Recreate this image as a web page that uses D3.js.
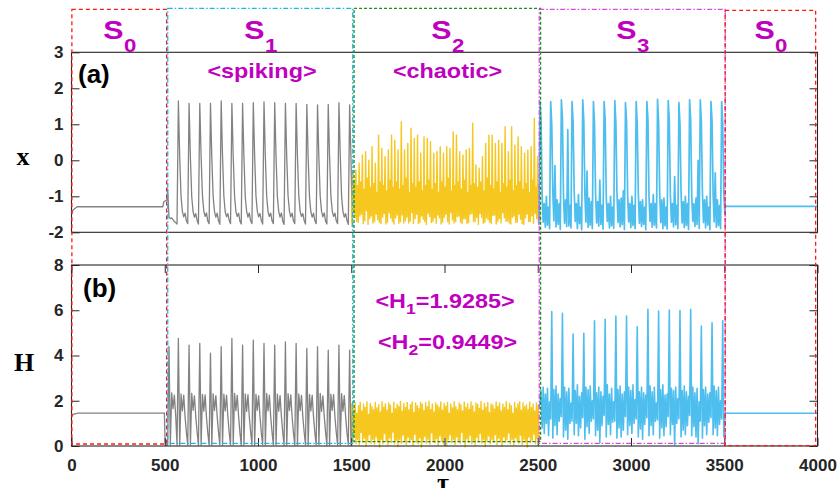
<!DOCTYPE html>
<html>
<head>
<meta charset="utf-8">
<script src="https://cdn.jsdelivr.net/npm/d3@7"></script>
<style>
  body { margin: 0; background: #fff; }
  svg { display: block; }
</style>
</head>
<body>
<div id="chart"></div>
<script>
(function(){

  var width = 839;
  var height = 488;

  // regions (tau)
  var regionSub = ['0', '1', '2', '3', '0'];
  var regionStart = [2, 516, 1515, 2508, 3505];
  var regionEnd = [510, 1508, 2515, 3505, 3990];

  var tauTicks = [0, 500, 1000, 1500, 2000, 2500, 3000, 3500, 4000];
  var xTicks = [-2, -1, 0, 1, 2, 3];
  var hTicks = [0, 2, 4, 6, 8];

  // S0 at start (gray)
  var s0T = [0, 8, 30, 490, 495, 512];
  var s0X = [-1.5, -1.38, -1.29, -1.29, -1.15, -1.1];
  var s0HT = [0, 10, 35, 498, 502, 512];
  var s0H = [1.3, 1.4, 1.45, 1.45, 0.15, 0.03];

  // S1 spiking, sampled from tau = 515.6 every 7.175
  var s1Start = 515.6, s1Step = 7.175;
  var s1X = [
    -0.8, -1.58, -1.62, -1.60, -1.65, -1.70, -1.73, -1.77,
    1.65, 0.10, -1.00, -1.42, -1.57, -1.47, -1.68, -1.76,
    1.58, 0.08, -1.02, -1.43, -1.58, -1.48, -1.67, -1.77,
    1.58, 0.10, -0.98, -1.41, -1.56, -1.46, -1.69, -1.76,
    1.58, 0.06, -1.01, -1.42, -1.58, -1.47, -1.68, -1.78,
    1.65, 0.12, -0.99, -1.43, -1.57, -1.48, -1.67, -1.76,
    1.58, 0.09, -1.00, -1.42, -1.56, -1.47, -1.69, -1.77,
    1.58, 0.08, -1.02, -1.41, -1.58, -1.46, -1.68, -1.76,
    1.60, 0.11, -0.99, -1.42, -1.57, -1.48, -1.67, -1.77,
    1.62, 0.10, -1.00, -1.43, -1.56, -1.47, -1.68, -1.76,
    1.60, 0.09, -1.01, -1.42, -1.58, -1.46, -1.69, -1.78,
    1.58, 0.07, -1.00, -1.41, -1.57, -1.47, -1.68, -1.76,
    1.58, 0.10, -0.98, -1.42, -1.56, -1.48, -1.67, -1.77,
    1.55, 0.06, -1.02, -1.43, -1.58, -1.47, -1.68, -1.76,
    1.54, 0.08, -1.00, -1.42, -1.57, -1.46, -1.69, -1.77,
    1.55, 0.09, -0.99, -1.41, -1.56, -1.47, -1.68, -1.76,
    1.60, 0.11, -1.01, -1.42, -1.58, -1.48, -1.67, -1.78,
    1.54, 0.05, -1.85
  ];
  var s1H = [
    0.05, 4.40, 0.05, 2.35, 1.65, 2.25, 1.35, 0.05,
    4.76, 0.05, 2.30, 1.55, 2.25, 1.30, 0.60, 0.05,
    4.46, 0.06, 2.32, 1.58, 2.22, 1.32, 0.62, 0.04,
    4.53, 0.05, 2.28, 1.54, 2.26, 1.28, 0.58, 0.05,
    4.10, 0.04, 2.31, 1.57, 2.23, 1.31, 0.61, 0.06,
    4.39, 0.05, 2.29, 1.55, 2.25, 1.30, 0.59, 0.05,
    4.76, 0.06, 2.33, 1.56, 2.24, 1.33, 0.60, 0.04,
    4.46, 0.05, 2.30, 1.53, 2.27, 1.29, 0.62, 0.05,
    4.68, 0.04, 2.28, 1.58, 2.22, 1.31, 0.58, 0.06,
    4.53, 0.05, 2.32, 1.55, 2.25, 1.30, 0.61, 0.05,
    4.46, 0.06, 2.29, 1.54, 2.23, 1.32, 0.60, 0.04,
    4.60, 0.05, 2.31, 1.57, 2.26, 1.28, 0.59, 0.05,
    4.53, 0.04, 2.30, 1.56, 2.24, 1.31, 0.62, 0.06,
    4.31, 0.05, 2.28, 1.55, 2.25, 1.30, 0.58, 0.05,
    4.39, 0.06, 2.33, 1.53, 2.22, 1.33, 0.61, 0.04,
    4.24, 0.05, 2.29, 1.58, 2.27, 1.29, 0.60, 0.05,
    4.46, 0.04, 2.31, 1.54, 2.23, 1.31, 0.59, 0.06,
    4.24, 0.05, 1.90
  ];

  // S2 chaotic, x: per cycle [low, tall, low, mid], from tau 1503 every 4.35
  var s2Start = 1503, s2XStep = 4.35, s2HStep = 4.5;
  var s2XTall = [-0.32,-0.27,-0.08,0.15,0.24,0.0,0.38,-0.08,0.7,0.33,0.1,0.29,0.7,0.56,0.29,1.07,0.29,0.47,0.89,0.61,0.7,0.2,0.65,0.61,0.52,0.2,0.24,0.38,0.2,0.38,0.33,0.79,0.7,0.24,0.15,0.29,0.33,1.03,-0.13,-0.22,0.1,0.47,0.7,0.7,0.47,0.56,0.47,0.93,0.24,0.93,0.42,0.65,0.38,0.2,0.29,0.38,1.17,0.1];
  var s2XMid = [-0.55,-0.7,-0.6,-0.8,-0.5,-0.75,-0.65,-0.9,-0.6,-0.7,-0.85,-0.55,-0.75,-0.6,-0.8,-0.7,-0.5,-0.9,-0.65,-0.75,-0.6,-0.85,-0.7,-0.55,-0.8,-0.65,-0.9,-0.6,-0.75,-0.5,-0.85,-0.7,-0.6,-0.8,-0.55,-0.9,-0.7,-0.65,-0.75,-0.6,-0.85,-0.5,-0.7,-0.8,-0.6,-0.9,-0.65,-0.75,-0.55,-0.85,-0.7,-0.6,-0.8,-0.65,-0.9,-0.55,-0.75,-0.7];
  var s2XLow1 = [-1.75,-1.6,-1.72,-1.5,-1.68,-1.78,-1.55,-1.7,-1.65,-1.76,-1.48,-1.72,-1.6,-1.77,-1.52,-1.7,-1.74,-1.58,-1.69,-1.76,-1.5,-1.73,-1.64,-1.78,-1.56,-1.7,-1.75,-1.6,-1.72,-1.5,-1.77,-1.66,-1.7,-1.55,-1.76,-1.62,-1.73,-1.48,-1.7,-1.78,-1.58,-1.72,-1.65,-1.76,-1.52,-1.7,-1.74,-1.6,-1.68,-1.77,-1.55,-1.72,-1.64,-1.78,-1.5,-1.7,-1.75,-1.62];
  var s2XLow2 = [-1.45,-1.7,-1.55,-1.76,-1.4,-1.62,-1.74,-1.5,-1.72,-1.58,-1.77,-1.46,-1.7,-1.6,-1.75,-1.52,-1.68,-1.74,-1.45,-1.62,-1.76,-1.55,-1.7,-1.48,-1.73,-1.6,-1.52,-1.77,-1.58,-1.7,-1.45,-1.74,-1.56,-1.72,-1.62,-1.76,-1.5,-1.7,-1.58,-1.48,-1.75,-1.6,-1.72,-1.53,-1.77,-1.62,-1.46,-1.7,-1.74,-1.58,-1.72,-1.5,-1.76,-1.6,-1.7,-1.55,-1.48,-1.73];
  // S2 chaotic, H: per cycle [high, low]
  var s2HHigh = [
    1.85,1.6,1.9,1.45,1.78,1.92,1.55,1.85,1.7,1.95,1.4,1.88,1.75,1.6,
    1.93,1.68,1.82,1.5,1.96,1.72,1.87,1.58,1.9,1.8,1.45,1.94,1.65,1.85,
    1.75,1.97,1.55,1.88,1.7,1.92,1.6,1.83,1.95,1.48,1.9,1.78,1.66,1.94,
    1.85,1.57,1.92,1.74,1.98,1.62,1.86,1.5,1.9,1.8,1.7,1.95,1.58,1.88,
    1.76,1.93,1.45,1.85,1.68,1.96,1.74,1.6,1.9,1.82,1.55,1.94,1.7,1.87,
    1.62,1.95,1.78,1.5,1.9,1.84,1.66,1.97,1.58,1.88,1.72,1.93,1.48,1.86,
    1.8,1.64,1.95,1.75,1.9,1.55,1.85,1.7,1.96,1.6,1.88,1.78,1.45,1.92,
    1.68,1.86,1.95,1.58,1.9,1.74,1.82,1.62,1.94,1.7,1.86,1.55,1.9,1.8
  ];
  var s2HLow = [
    0.2,0.45,0.1,0.3,0.05,0.6,0.15,0.35,0.0,0.25,0.5,0.12,0.3,0.08,
    0.4,0.18,-0.05,0.28,0.1,0.55,0.2,0.05,0.35,0.15,0.62,0.1,0.25,-0.03,
    0.3,0.12,0.48,0.2,0.06,0.38,0.15,0.28,0.02,0.52,0.18,0.1,0.35,-0.05,
    0.25,0.42,0.12,0.3,0.08,0.58,0.2,0.15,0.32,0.05,0.45,0.22,0.1,0.36,
    0.0,0.28,0.5,0.14,0.3,0.06,0.4,0.2,0.12,0.6,0.25,-0.04,0.32,0.15,
    0.46,0.1,0.26,0.05,0.38,0.18,0.55,0.12,0.3,-0.02,0.22,0.44,0.1,0.28,
    0.15,0.5,0.06,0.34,0.2,0.0,0.4,0.16,0.28,0.58,0.1,0.3,0.05,0.36,
    0.22,0.12,0.48,0.08,0.3,0.18,-0.05,0.4,0.15,0.26,0.52,0.1,0.32,0.2
  ];

  // S3 bursting, sampled from tau 2506.3 every 5.73
  var s3Start = 2506.3, s3Step = 5.73;
  var s3X = [
    -1.8,
    1.63, 1.10, -0.95, -1.72, -1.20, -1.86, -1.00, -1.80, -1.30, -1.90,
    1.63, 1.00, -0.90, -1.68, -0.15, -1.85, -1.10, -1.78, -1.20, -1.92,
    1.68, 1.15, -1.00, -1.75, -1.10, -1.84, 0.85, -1.82, -1.25, -1.88,
    1.63, 1.05, -0.85, -1.70, -1.20, -1.90, -0.95, -1.76, -1.30, -1.93,
    1.68, 1.10, -0.95, -1.72, -0.30, -1.86, -1.05, -1.80, -1.15, -1.90,
    1.63, 1.00, -0.90, -1.74, -1.15, -1.83, -0.55, -1.78, -1.25, -1.91,
    1.63, 1.12, -1.00, -1.70, -1.20, -1.88, -1.00, -1.82, -1.30, -1.89,
    1.66, 1.05, -0.88, -1.73, -1.10, -1.85, -1.05, -1.79, -0.85, -1.92,
    1.60, 1.10, -0.95, -1.71, -1.20, -1.87, -1.00, -1.81, -1.25, -1.90,
    1.63, 1.00, -0.90, -1.75, -1.15, -1.84, -1.10, -1.78, -1.30, -1.93,
    1.63, 1.15, -1.00, -1.70, -1.20, -1.86, -0.95, -1.80, -1.20, -1.88,
    1.69, 1.05, -0.92, -1.73, -1.10, -1.90, -1.05, -1.82, -1.30, -1.91,
    1.66, 1.10, -0.95, -1.72, -1.20, -1.85, -0.45, -1.79, -1.25, -1.90,
    1.60, 1.00, -0.88, -1.74, -1.15, -1.87, -1.00, -1.81, -1.20, -1.92,
    1.68, 1.12, -1.00, -1.70, -1.20, -1.84, -1.05, -1.78, 0.00, -1.89,
    1.68, 1.05, -0.90, -1.73, -1.10, -1.88, -1.00, -1.80, -1.30, -1.93,
    1.63, 1.10, -0.95, -1.71, -0.35, -1.86, -1.10, -1.82, -1.25, -1.90,
    1.63, 1.00, -0.90, -1.50
  ];
  var s3H = [
    1.75,
    1.90, 2.45, 0.80, 2.60, 0.55, 2.30, 1.00, 2.55, 0.45, 1.95,
    1.20, 5.94, 0.35, 2.50, 0.90, 2.65, 0.50, 2.30, 1.10, 2.10,
    1.30, 5.86, 0.40, 2.60, 0.70, 2.40, 0.30, 2.55, 1.00, 1.90,
    1.10, 4.95, 0.50, 2.45, 1.00, 2.70, 0.45, 2.20, 0.80, 2.35,
    1.25, 4.98, 0.30, 2.60, 0.85, 2.50, 0.55, 2.65, 1.10, 2.00,
    1.20, 5.53, 0.45, 2.35, 0.70, 2.60, 0.15, 2.40, 0.90, 2.20,
    1.35, 5.60, 0.40, 2.70, 0.95, 2.30, 0.50, 2.55, 1.05, 1.95,
    1.10, 5.74, 0.35, 2.50, 0.80, 2.65, 0.40, 2.30, 0.70, 2.40,
    1.30, 5.74, 0.50, 2.60, 0.90, 2.45, 0.55, 2.70, 1.00, 2.05,
    1.20, 5.27, 0.40, 2.40, 0.75, 2.60, 0.30, 2.35, 0.95, 2.25,
    1.25, 6.04, 0.45, 2.65, 0.90, 2.40, 0.50, 2.60, 1.10, 1.90,
    1.15, 5.97, 0.35, 2.50, 0.80, 2.70, 0.45, 2.25, 0.85, 2.30,
    1.30, 6.01, 0.50, 2.55, 0.95, 2.45, 0.05, 2.60, 1.00, 2.10,
    1.20, 5.99, 0.40, 2.45, 0.70, 2.65, 0.50, 2.40, 0.90, 2.20,
    1.35, 6.04, 0.45, 2.60, 0.85, 2.35, 0.40, 2.55, 0.10, 1.95,
    1.10, 5.30, 0.35, 2.50, 0.90, 2.60, 0.50, 2.30, 1.05, 2.35,
    1.25, 5.45, 0.50, 2.65, 0.80, 2.45, 0.45, 2.60, 0.95, 2.00,
    1.20, 5.53, 0.40, 1.40
  ];

  // S0 at end (blue)
  var s0bT = [3505, 4000];
  var s0bX = [-1.28, -1.28];
  var s0bH = [1.45, 1.45];

  var gray = '#828282', yellow = '#f5c71f', blue = '#4dbeee';
  var magenta = '#bf00bf', axisColor = '#262626';

  var svg = d3.select('#chart').append('svg')
    .attr('width', width).attr('height', height)
    .attr('font-family', '"Liberation Sans", Arial, sans-serif');

  var x = d3.scaleLinear().domain([0, 4000]).range([71.5, 817.5]);
  var ya = d3.scaleLinear().domain([-2, 3]).range([232.3, 52.3]);
  var yb = d3.scaleLinear().domain([0, 8]).range([446, 265]);

  function sampled(t0, step, vals) {
    return vals.map(function(v, i) { return [t0 + i * step, v]; });
  }
  function paired(ts, vals) {
    return vals.map(function(v, i) { return [ts[i], v]; });
  }

  var s2XVals = [];
  s2XTall.forEach(function(v, i) {
    s2XVals.push(s2XLow1[i], v, s2XLow2[i], s2XMid[i]);
  });
  s2XVals.push(-1.7);
  var s2HVals = [];
  s2HHigh.forEach(function(v, i) { s2HVals.push(v, s2HLow[i]); });

  var panelA = [
    { pts: paired(s0T, s0X).concat(sampled(s1Start, s1Step, s1X)), color: gray, w: 1.3 },
    { pts: sampled(s2Start, s2XStep, s2XVals), color: yellow, w: 1.4 },
    { pts: sampled(s3Start, s3Step, s3X).concat(paired(s0bT, s0bX)), color: blue, w: 1.7 }
  ];
  var panelB = [
    { pts: paired(s0HT, s0H).concat(sampled(s1Start, s1Step, s1H)), color: gray, w: 1.3 },
    { pts: sampled(s2Start, s2HStep, s2HVals), color: yellow, w: 1.4 },
    { pts: sampled(s3Start, s3Step, s3H).concat(paired(s0bT, s0bH)), color: blue, w: 1.6 }
  ];

  var lineA = d3.line().x(function(d) { return x(d[0]); }).y(function(d) { return ya(d[1]); });
  var lineB = d3.line().x(function(d) { return x(d[0]); }).y(function(d) { return yb(d[1]); });

  svg.append('g').selectAll('path').data(panelA).enter().append('path')
    .attr('d', function(d) { return lineA(d.pts); })
    .attr('fill', 'none').attr('stroke', function(d) { return d.color; })
    .attr('stroke-width', function(d) { return d.w; }).attr('stroke-linejoin', 'round');
  svg.append('g').selectAll('path').data(panelB).enter().append('path')
    .attr('d', function(d) { return lineB(d.pts); })
    .attr('fill', 'none').attr('stroke', function(d) { return d.color; })
    .attr('stroke-width', function(d) { return d.w; }).attr('stroke-linejoin', 'round');

  // axes
  var plain = function(d) { return String(d); };
  function styleAxis(g) {
    g.selectAll('.domain').remove();
    g.selectAll('line').attr('stroke', axisColor);
    g.selectAll('text').attr('fill', axisColor).attr('font-size', 17).attr('font-weight', 'bold');
  }
  svg.append('g').attr('transform', 'translate(71.5,0)')
    .call(d3.axisLeft(ya).tickValues(xTicks).tickFormat(plain).tickSize(-8).tickPadding(8)).call(styleAxis);
  svg.append('g').attr('transform', 'translate(817.5,0)')
    .call(d3.axisRight(ya).tickValues(xTicks).tickSize(-8).tickFormat('')).call(styleAxis);
  svg.append('g').attr('transform', 'translate(71.5,0)')
    .call(d3.axisLeft(yb).tickValues(hTicks).tickFormat(plain).tickSize(-8).tickPadding(8)).call(styleAxis);
  svg.append('g').attr('transform', 'translate(817.5,0)')
    .call(d3.axisRight(yb).tickValues(hTicks).tickSize(-8).tickFormat('')).call(styleAxis);
  svg.append('g').attr('transform', 'translate(0,446)')
    .call(d3.axisBottom(x).tickValues(tauTicks).tickFormat(plain).tickSize(-8).tickPadding(13)).call(styleAxis);
  svg.append('g').attr('transform', 'translate(0,265)')
    .call(d3.axisTop(x).tickValues(tauTicks).tickSize(-8).tickFormat('')).call(styleAxis);

  // frames
  [[ya, 3, -2], [yb, 8, 0]].forEach(function(p) {
    svg.append('rect')
      .attr('x', x(0)).attr('y', p[0](p[1]))
      .attr('width', x(4000) - x(0)).attr('height', p[0](p[2]) - p[0](p[1]))
      .attr('fill', 'none').attr('stroke', axisColor).attr('stroke-width', 1.1);
  });

  // dashed region boxes
  var boxColor = ['#ff1a1a', '#1fb6e6', '#1e8c1e', '#cf4fdc', '#ff1a1a'];
  var boxDash = ['4,3', '5,2,1.5,2', '3,2', '5,2,1.5,2', '4,3'];
  var boxTop = [9.3, 8.3, 8.3, 9.3, 10.3];
  var boxBottom = [444, 443.3, 441.7, 443.3, 445.7];
  svg.append('g').selectAll('rect').data(regionStart).enter().append('rect')
    .attr('x', function(d) { return x(d); })
    .attr('y', function(d, i) { return boxTop[i]; })
    .attr('width', function(d, i) { return x(regionEnd[i]) - x(d); })
    .attr('height', function(d, i) { return boxBottom[i] - boxTop[i]; })
    .attr('fill', 'none')
    .attr('stroke', function(d, i) { return boxColor[i]; })
    .attr('stroke-width', 1.3)
    .attr('stroke-dasharray', function(d, i) { return boxDash[i]; });

  // region labels S_k
  var labels = svg.append('g').selectAll('g').data(regionStart).enter().append('g')
    .attr('transform', function(d, i) {
      return 'translate(' + x((d + regionEnd[i]) / 2) + ',39) scale(1.17,1)';
    });
  labels.append('text')
    .attr('x', -5).attr('text-anchor', 'middle')
    .attr('font-size', 26).attr('font-weight', 'bold').attr('fill', magenta)
    .text('S');
  labels.append('text')
    .attr('x', 4).attr('y', 13)
    .attr('font-size', 19).attr('font-weight', 'bold').attr('fill', magenta)
    .text(function(d, i) { return regionSub[i]; });

  function magText(cx, cy, parts) {
    var t = svg.append('text')
      .attr('transform', 'translate(' + cx + ',' + cy + ') scale(1.17,1)')
      .attr('text-anchor', 'middle').attr('font-weight', 'bold')
      .attr('font-size', 20).attr('fill', magenta);
    parts.forEach(function(p) {
      var s = t.append('tspan').text(p[0]);
      if (p[1] === 'sub') s.attr('font-size', 15).attr('dy', 6);
      if (p[1] === 'up') s.attr('dy', -6);
    });
  }
  magText(262, 78, [['<spiking>']]);
  magText(447.5, 78, [['<chaotic>']]);
  magText(445, 307.5, [['<H'], ['1', 'sub'], ['=1.9285>', 'up']]);
  magText(447.5, 349, [['<H'], ['2', 'sub'], ['=0.9449>', 'up']]);

  // panel tags
  svg.append('text').attr('x', 78).attr('y', 82.5)
    .attr('font-size', 26).attr('font-weight', 'bold').attr('fill', '#000').text('(a)');
  svg.append('text').attr('x', 83).attr('y', 296.5)
    .attr('font-size', 26).attr('font-weight', 'bold').attr('fill', '#000').text('(b)');

  // axis titles
  var serif = '"Liberation Serif", "Times New Roman", serif';
  svg.append('text').attr('x', 23).attr('y', 165).attr('text-anchor', 'middle')
    .attr('font-family', serif).attr('font-weight', 'bold').attr('font-size', 26).text('x');
  svg.append('text').attr('x', 24).attr('y', 371).attr('text-anchor', 'middle')
    .attr('font-family', serif).attr('font-weight', 'bold').attr('font-size', 26).text('H');
  svg.append('text').attr('x', 443).attr('y', 491).attr('text-anchor', 'middle')
    .attr('font-family', serif).attr('font-weight', 'bold').attr('font-size', 26).text('τ');

})();
</script>
</body>
</html>
